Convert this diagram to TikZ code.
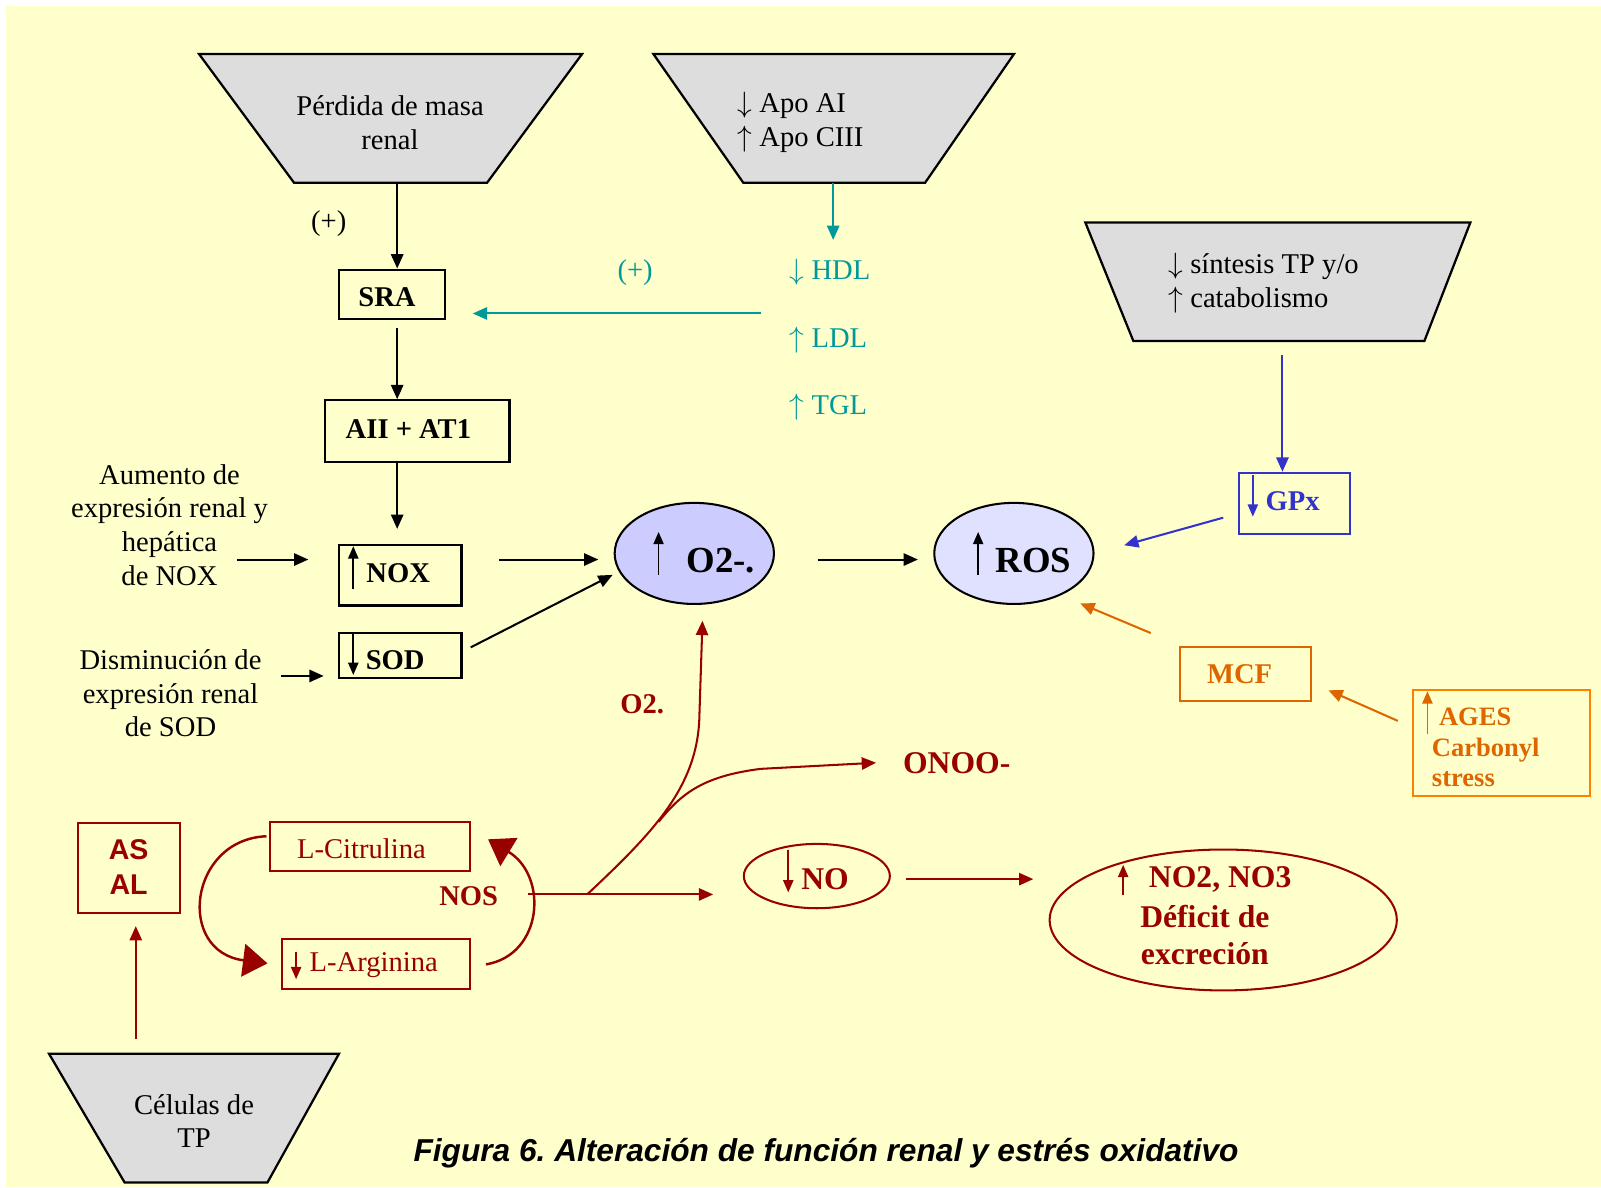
\documentclass[tikz,border=0pt]{standalone}
\usepackage{fontspec}
\setmainfont{Liberation Serif}
\newfontfamily\arialf{Liberation Sans}
\usetikzlibrary{arrows.meta,shapes.geometric,calc}
\definecolor{bgy}{HTML}{FFFFCC}
\definecolor{grayf}{HTML}{DDDDDD}
\definecolor{dred}{HTML}{990000}
\definecolor{tealc}{HTML}{009999}
\definecolor{bluc}{HTML}{3333CC}
\definecolor{orac}{HTML}{DD6600}
\definecolor{orab}{HTML}{FF8000}
\definecolor{lava}{HTML}{CCCCFF}
\definecolor{lavb}{HTML}{E0E0FF}
\newcommand{\dnar}{$\downarrow$}
\newcommand{\upar}{$\uparrow$}
\begin{document}
\begin{tikzpicture}[x=0.5pt,y=-0.5pt,
  every node/.style={inner sep=0pt, font=\fontsize{14}{16.5}\selectfont},
  trap/.style={draw=black, fill=grayf, line width=1.1pt, line join=miter},
  box/.style={draw, rectangle, line width=1pt},
  arr/.style={line width=1pt, -{Triangle[length=7pt,width=6pt]}},
  inarr/.style={line width=0.8pt, -{Triangle[length=6pt,width=5pt]}},
  bigarr/.style={line width=1.2pt, -{Triangle[length=12pt,width=16pt]}},
  bft/.style={font=\fontsize{14}{16.5}\selectfont\bfseries},
  bfl/.style={font=\fontsize{18}{20}\selectfont\bfseries},
  bfm/.style={font=\fontsize{15.5}{18.5}\selectfont\bfseries},
]
% background
\fill[white] (0,0) rectangle (1568,1163);
\fill[bgy] (6,6) rectangle (1568,1163);
\useasboundingbox (0,0) rectangle (1568,1163);

% trapezoids
\draw[trap] (195,53) -- (570,53) -- (477,179) -- (288,179) -- cycle;
\node[align=center] (t1) at (382,120) {Pérdida de masa\\renal};
\coordinate (t1b) at (389,179);

\draw[trap] (640,53) -- (993,53) -- (906,179) -- (728,179) -- cycle;
\node[align=left, anchor=west] (t2) at (722,120) {\dnar\ Apo AI\\\upar\ Apo CIII};
\coordinate (t2b) at (816,179);

\draw[trap] (1063,218) -- (1440,218) -- (1395,334) -- (1110,334) -- cycle;
\node[align=left, anchor=west] (t3) at (1144,277) {\dnar\ síntesis TP y/o\\\upar\ catabolismo};
\coordinate (t3b) at (1256,348);

\draw[trap] (48,1032) -- (332,1032) -- (262,1158) -- (122,1158) -- cycle;
\node[align=center] (t4) at (190,1098) {Células de\\TP};
\coordinate (t4t) at (133,1018);

% black chain
\node[box, minimum width=52pt, minimum height=24pt] (sra) at (384,288) {};
\node[bft] (sratx) at (379,291) {SRA};
\node[box, minimum width=90.5pt, minimum height=30pt] (aii) at (408.5,422) {};
\node[bft] (aiitx) at (400,420) {AII + AT1};
\node[box, minimum width=60pt, minimum height=29.5pt] (nox) at (392,563.5) {};
\node[bft] (noxtx) at (390,561) {NOX};
\draw[inarr] (346,577) -- (346,535);
\node[box, minimum width=60pt, minimum height=22pt] (sod) at (392,642) {};
\node[bft] (sodtx) at (387,647) {SOD};
\draw[inarr] (346,621) -- (346,661);

\node at (322,219) {(+)};
\draw[arr] (t1b) -- ($(sra.north)+(5,0)$);
\draw[arr] ($(sra.south)+(5,8)$) -- ($(aii.north)+(-19.5,0)$);
\draw[arr] ($(aii.south)+(-19.5,-2)$) -- ($(nox.north)+(-3,-15)$);

\node[align=center] (aum) at (166,514) {Aumento de\\expresión renal y\\hepática\\de NOX};
\coordinate (a1) at (232,548);
\draw[arr] (a1) -- ($(nox.west)+(-29,-15.5)$);
\node[align=center] (dis) at (167,679) {Disminución de\\expresión renal\\de SOD};
\coordinate (d1) at (275,662);
\draw[arr] (d1) -- ($(sod.west)+(-14,20)$);

% ellipses
\node[ellipse, draw, fill=lava, line width=1pt, minimum width=78pt, minimum height=49.5pt] (o2) at (680,542) {};
\node[bfl] (o2tx) at (706,549) {O2-.};
\draw[inarr] (645,563) -- (645,521);
\node[ellipse, draw, fill=lavb, line width=1pt, minimum width=78pt, minimum height=49.5pt] (ros) at (993,542) {};
\node[bfl] (rostx) at (1012,549) {ROS};
\draw[inarr] (958,563) -- (958,521);

\draw[arr] ($(nox.east)+(36,-15.5)$) -- ($(o2.west)+(-15,6)$);
\draw[arr] ($(sod.east)+(8,-8)$) -- ($(o2.west)+(-1,21)$);
\draw[arr] ($(o2.east)+(42,6)$) -- ($(ros.west)+(-15,6)$);

% teal
\node[tealc, anchor=west] (hdl) at (773,267) {\dnar\ HDL};
\node[tealc, anchor=west] (ldl) at (773,333) {\upar\ LDL};
\node[tealc, anchor=west] (tgl) at (773,399) {\upar\ TGL};
\node[tealc] (plus2) at (622,267) {(+)};
\coordinate (hdltop) at (816,235);
\draw[arr, tealc] (t2b) -- (hdltop);
\coordinate (tst) at (745,307);
\draw[arr, tealc] (tst) -- ($(sra.east)+(26,19)$);

% blue
\node[box, draw=bluc, minimum width=54.5pt, minimum height=30pt] (gpx) at (1267.5,493) {};
\node[bft, text=bluc] (gpxtx) at (1266,491) {GPx};
\draw[inarr, bluc] (1227,465) -- (1227,506);
\draw[arr, bluc] (t3b) -- (t3b |- gpx.north);
\draw[arr, bluc] ($(gpx.west)+(-14,14)$) -- ($(ros.east)+(29,-8)$);

% orange
\node[box, draw=orac, minimum width=64pt, minimum height=26.5pt] (mcf) at (1220,660.5) {};
\node[bft, text=orac] (mcftx) at (1214,660) {MCF};
\node[box, draw=orab, minimum width=86.5pt, minimum height=52pt] (ages) at (1470.5,728) {};
\node[text=orac, align=left, anchor=west, font=\fontsize{13}{15}\selectfont\bfseries] (agestx) at (1402,732) {\hspace{3.5pt}AGES\\Carbonyl\\stress};
\draw[inarr, orac] (1398,719) -- (1398,677);
\draw[arr, orac] ($(mcf.west)+(-28,-40.5)$) -- ($(ros.center)+(65,49)$);
\draw[arr, orac] ($(ages.west)+(-14,-22)$) -- ($(mcf.east)+(16,15.5)$);

% dark red part
\node[box, draw=dred, minimum width=50pt, minimum height=44pt] (asal) at (126,850) {};
\node[text=dred, align=center, font=\fontsize{14}{17}\arialf\bfseries] (asaltx) at (126,849) {AS\\AL};
\draw[arr, dred] (t4t) -- ($(asal.south)+(7,12)$);

\node[box, draw=dred, minimum width=98pt, minimum height=24pt] (cit) at (362,829) {};
\node[text=dred] (cittx) at (354,831) {L-Citrulina};
\node[box, draw=dred, minimum width=92pt, minimum height=24.5pt] (arg) at (368,944.5) {};
\node[text=dred] (argtx) at (366,945) {L-Arginina};
\draw[inarr, dred] (290,932) -- (290,959);
\node[bft, text=dred] (nos) at (459,878) {NOS};

\draw[bigarr, dred] ($(cit.west)+(-2,-10)$) .. controls (185,822) and (172,932) .. ($(arg.west)+(-13,-1)$);
\draw[bigarr, dred] ($(arg.east)+(15,0)$) .. controls (532,935) and (537,858) .. ($(cit.east)+(17,-7)$);

\node[ellipse, draw=dred, line width=1pt, minimum width=71.5pt, minimum height=31.5pt] (no) at (800,858) {};
\node[bfm, text=dred] (notx) at (808,861) {NO};
\draw[inarr, dred] (772,832) -- (772,874);

\node[ellipse, draw=dred, line width=1pt, minimum width=170pt, minimum height=69pt] (big) at (1198,901) {};
\node[bfm, text=dred] (bigt1) at (1195,861) {NO2, NO3};
\node[bfm, text=dred] (bigt2) at (1180,898) {Déficit de};
\node[bfm, text=dred] (bigt3) at (1180,934) {excreción};
\draw[inarr, dred] (1100,877) -- (1100,847);

\coordinate (nosout) at (517,876);
\coordinate (split) at (575,876);
\draw[arr, dred] (nosout) -- ($(no.west)+(-29,18)$);
\draw[arr, dred] ($(no.east)+(14.5,3)$) -- ($(big.west)+(-15,-40)$);

\node[bft, text=dred] (o2dot) at (629,690) {O2.};
\node[bfm, text=dred, anchor=west] (onoo) at (884,747) {ONOO-};
\draw[arr, dred] (split) .. controls (640,815) and (684,770) .. (685,700) -- ($(o2.south)+(8,15.5)$);
\draw[arr, dred] (645,805) .. controls (668,776) and (690,760) .. (745,753) -- ($(onoo.west)+(-26,0)$);

% caption
\node[font=\fontsize{15.5}{18}\arialf\bfseries\itshape] (cap) at (809,1129) {\frenchspacing Figura 6. Alteración de función renal y estrés oxidativo};
\end{tikzpicture}
\end{document}
